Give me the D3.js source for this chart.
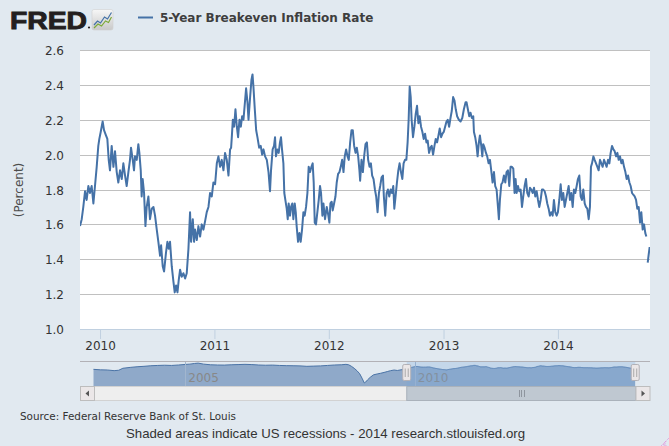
<!DOCTYPE html>
<html><head><meta charset="utf-8">
<script src="https://cdn.jsdelivr.net/npm/d3@7"></script>
<style>html,body{margin:0;padding:0;background:#E1E9F0;} svg{display:block;}</style>
</head><body><svg id="c" width="669" height="446"></svg>
<script>
// ---------- DATA ----------
const seriesName = "5-Year Breakeven Inflation Rate";
const yAxisTitle = "(Percent)";
const yTicks = [1.0, 1.2, 1.4, 1.6, 1.8, 2.0, 2.2, 2.4, 2.6];
const xTickYears = [2010, 2011, 2012, 2013, 2014];
const navTickYears = [2005, 2010];
const viewRange = [2009.825, 2014.805];   // decimal years shown in main chart
const navRange = [2003.0, 2014.8];         // decimal years in navigator
// [decimal year, percent]
const breakeven = [
[2009.825,1.59],[2009.840,1.63],[2009.854,1.70],[2009.869,1.79],[2009.883,1.74],[2009.898,1.82],[2009.912,1.78],[2009.927,1.82],[2009.942,1.72],[2009.956,1.82],[2009.971,1.93],[2009.985,2.05],[2009.994,2.09],[2010.006,2.13],[2010.023,2.19],[2010.035,2.14],[2010.052,2.11],[2010.064,2.09],[2010.076,1.97],[2010.087,1.91],[2010.102,2.05],[2010.117,1.93],[2010.131,2.02],[2010.146,1.90],[2010.160,1.84],[2010.175,1.91],[2010.190,1.86],[2010.204,1.95],[2010.219,1.88],[2010.233,1.82],[2010.248,1.90],[2010.262,1.97],[2010.271,2.04],[2010.286,1.97],[2010.297,1.91],[2010.306,1.99],[2010.321,1.97],[2010.335,2.06],[2010.344,2.01],[2010.356,1.91],[2010.364,1.76],[2010.373,1.86],[2010.385,1.78],[2010.397,1.59],[2010.408,1.70],[2010.423,1.76],[2010.437,1.63],[2010.452,1.69],[2010.467,1.70],[2010.481,1.65],[2010.496,1.57],[2010.510,1.50],[2010.525,1.42],[2010.534,1.48],[2010.548,1.36],[2010.560,1.33],[2010.577,1.44],[2010.589,1.50],[2010.601,1.46],[2010.612,1.50],[2010.627,1.36],[2010.642,1.27],[2010.653,1.21],[2010.665,1.25],[2010.677,1.21],[2010.688,1.28],[2010.700,1.34],[2010.714,1.30],[2010.729,1.32],[2010.744,1.29],[2010.758,1.32],[2010.773,1.46],[2010.787,1.67],[2010.796,1.50],[2010.811,1.63],[2010.822,1.50],[2010.831,1.57],[2010.846,1.51],[2010.860,1.59],[2010.875,1.53],[2010.889,1.60],[2010.904,1.57],[2010.919,1.62],[2010.933,1.67],[2010.948,1.70],[2010.962,1.78],[2010.977,1.76],[2010.991,1.84],[2011.006,1.83],[2011.021,1.95],[2011.035,1.99],[2011.050,1.93],[2011.064,1.97],[2011.079,1.91],[2011.093,2.01],[2011.108,1.97],[2011.123,1.88],[2011.137,2.03],[2011.146,2.04],[2011.152,2.10],[2011.161,2.20],[2011.172,2.16],[2011.184,2.26],[2011.196,2.16],[2011.207,2.10],[2011.219,2.20],[2011.231,2.16],[2011.242,2.22],[2011.254,2.20],[2011.268,2.31],[2011.277,2.38],[2011.289,2.30],[2011.298,2.20],[2011.312,2.33],[2011.324,2.43],[2011.333,2.46],[2011.341,2.39],[2011.353,2.26],[2011.365,2.14],[2011.376,2.10],[2011.391,2.04],[2011.405,2.05],[2011.417,2.00],[2011.429,2.03],[2011.443,1.99],[2011.458,1.97],[2011.473,1.90],
[2011.486,1.79],[2011.495,1.91],[2011.509,2.03],[2011.521,2.05],[2011.530,2.10],[2011.538,1.99],[2011.550,2.03],[2011.562,2.01],[2011.573,2.07],[2011.582,2.10],[2011.591,2.03],[2011.603,1.95],[2011.611,1.78],[2011.620,1.74],[2011.632,1.69],[2011.641,1.63],[2011.649,1.72],[2011.661,1.65],[2011.670,1.70],[2011.681,1.72],[2011.690,1.63],[2011.702,1.72],[2011.711,1.67],[2011.719,1.59],[2011.731,1.50],[2011.743,1.55],[2011.754,1.50],[2011.766,1.57],[2011.778,1.67],[2011.789,1.65],[2011.801,1.70],[2011.813,1.78],[2011.824,1.93],[2011.836,1.90],[2011.848,1.93],[2011.859,1.95],[2011.868,1.84],[2011.877,1.61],[2011.888,1.60],[2011.900,1.67],[2011.912,1.74],[2011.923,1.82],[2011.932,1.78],[2011.944,1.65],[2011.953,1.72],[2011.967,1.63],[2011.982,1.70],[2011.996,1.65],[2012.005,1.61],[2012.014,1.72],[2012.025,1.73],[2012.034,1.68],[2012.046,1.72],[2012.058,1.76],[2012.069,1.84],[2012.081,1.89],[2012.093,1.90],[2012.104,1.93],[2012.116,1.97],[2012.128,1.90],[2012.139,1.99],[2012.151,2.03],[2012.163,1.99],[2012.174,1.97],[2012.186,2.07],[2012.198,2.14],[2012.209,2.14],[2012.221,2.05],[2012.233,2.01],[2012.244,2.04],[2012.256,1.99],[2012.267,1.91],[2012.273,1.85],[2012.285,1.97],[2012.297,1.90],[2012.308,1.99],[2012.320,2.06],[2012.332,2.07],[2012.343,1.97],[2012.355,1.93],[2012.367,1.95],[2012.378,1.88],[2012.390,1.86],[2012.402,1.80],[2012.413,1.76],[2012.425,1.67],[2012.437,1.78],[2012.448,1.82],[2012.460,1.87],[2012.472,1.88],[2012.480,1.76],[2012.492,1.65],[2012.504,1.78],[2012.515,1.80],[2012.527,1.76],[2012.539,1.80],[2012.550,1.78],[2012.562,1.82],[2012.571,1.69],[2012.582,1.76],[2012.594,1.84],[2012.606,1.91],[2012.617,1.95],[2012.629,1.90],[2012.641,1.86],[2012.652,1.95],[2012.664,1.97],[2012.676,1.97],[2012.687,2.07],[2012.696,2.20],[2012.705,2.39],[2012.714,2.33],[2012.722,2.20],[2012.734,2.10],[2012.746,2.16],[2012.757,2.23],[2012.769,2.28],[2012.781,2.18],[2012.792,2.22],[2012.804,2.16],[2012.816,2.13],[2012.827,2.09],[2012.839,2.12],[2012.851,2.07],[2012.862,2.08],[2012.874,2.01],[2012.886,2.04],[2012.897,2.05],[2012.909,2.00],[2012.921,2.05],[2012.932,2.09],[2012.944,2.07],[2012.956,2.11],[2012.967,2.15],[2012.979,2.10],[2012.991,2.12],[2013.002,2.13],[2013.014,2.16],[2013.026,2.19],[2013.037,2.20],[2013.049,2.16],[2013.061,2.21],[2013.072,2.25],[2013.084,2.33],[2013.096,2.31],[2013.107,2.26],[2013.119,2.22],[2013.134,2.20],
[2013.149,2.19],[2013.164,2.21],[2013.178,2.26],[2013.193,2.30],[2013.201,2.30],[2013.213,2.26],[2013.225,2.22],[2013.236,2.24],[2013.248,2.21],[2013.260,2.22],[2013.266,2.13],[2013.277,2.10],[2013.289,2.05],[2013.298,1.99],[2013.309,2.07],[2013.318,2.11],[2013.330,2.05],[2013.339,1.99],[2013.347,2.06],[2013.359,2.04],[2013.371,2.01],[2013.382,1.99],[2013.394,1.95],[2013.406,1.97],[2013.417,1.91],[2013.429,1.84],[2013.441,1.90],[2013.452,1.82],[2013.464,1.80],[2013.476,1.70],[2013.484,1.63],[2013.493,1.74],[2013.505,1.83],[2013.516,1.84],[2013.528,1.88],[2013.540,1.84],[2013.551,1.90],[2013.563,1.91],[2013.575,1.82],[2013.586,1.93],[2013.598,1.93],[2013.610,1.92],[2013.621,1.78],[2013.630,1.86],[2013.639,1.78],[2013.651,1.82],[2013.662,1.79],[2013.674,1.80],[2013.686,1.70],[2013.697,1.76],[2013.709,1.82],[2013.721,1.86],[2013.732,1.78],[2013.744,1.76],[2013.756,1.81],[2013.767,1.80],[2013.779,1.78],[2013.791,1.81],[2013.802,1.76],[2013.814,1.79],[2013.826,1.74],[2013.837,1.70],[2013.849,1.74],[2013.861,1.80],[2013.872,1.80],[2013.884,1.79],[2013.896,1.76],[2013.907,1.72],[2013.919,1.69],[2013.930,1.65],[2013.942,1.67],[2013.954,1.65],[2013.965,1.74],[2013.977,1.67],[2013.989,1.65],[2014.000,1.67],[2014.012,1.74],[2014.024,1.83],[2014.035,1.74],[2014.047,1.78],[2014.059,1.70],[2014.070,1.74],[2014.082,1.78],[2014.094,1.82],[2014.105,1.74],[2014.117,1.78],[2014.129,1.70],[2014.140,1.80],[2014.152,1.78],[2014.164,1.82],[2014.175,1.86],[2014.187,1.88],[2014.199,1.76],[2014.210,1.74],[2014.222,1.80],[2014.234,1.72],[2014.245,1.70],[2014.257,1.69],[2014.269,1.63],[2014.280,1.70],[2014.289,1.93],[2014.298,1.95],[2014.310,1.99],[2014.321,1.97],[2014.333,1.95],[2014.345,1.93],[2014.356,1.91],[2014.368,1.97],[2014.380,1.95],[2014.391,1.93],[2014.403,1.97],[2014.415,1.95],[2014.426,1.93],[2014.438,1.97],[2014.450,1.95],[2014.461,2.01],[2014.473,2.05],[2014.485,2.03],[2014.496,2.02],[2014.508,1.99],[2014.520,2.01],[2014.531,1.97],[2014.543,1.99],[2014.555,1.95],[2014.566,1.97],[2014.578,1.93],[2014.590,1.90],[2014.601,1.86],[2014.613,1.88],[2014.625,1.84],[2014.636,1.82],[2014.648,1.78],[2014.659,1.77],[2014.671,1.76],[2014.683,1.74],[2014.694,1.69],[2014.706,1.70],[2014.718,1.61],[2014.729,1.67],[2014.741,1.57],[2014.753,1.60],[2014.764,1.55],[2014.773,1.53],[2014.777,null],[2014.785,1.38],[2014.794,1.43],[2014.802,1.47]
];
// earlier history shown only in the navigator
const navHistory = [
[2003.00,1.41],[2003.15,1.30],[2003.30,1.26],[2003.45,1.11],[2003.55,1.20],[2003.64,1.65],[2003.80,1.85],[2003.95,2.00],[2004.10,2.10],[2004.25,2.23],[2004.40,2.30],[2004.55,2.35],[2004.70,2.30],[2004.85,2.40],[2005.00,2.53],[2005.10,2.60],[2005.20,2.75],[2005.28,2.83],[2005.40,2.60],[2005.55,2.45],[2005.70,2.40],[2005.85,2.38],[2006.00,2.45],[2006.15,2.50],[2006.30,2.55],[2006.45,2.50],[2006.60,2.40],[2006.75,2.35],[2006.90,2.38],[2007.05,2.30],[2007.20,2.25],[2007.35,2.23],[2007.50,2.20],[2007.65,2.10],[2007.80,2.15],[2007.95,2.20],[2008.10,2.30],[2008.25,2.40],[2008.40,2.45],[2008.50,2.55],[2008.56,2.45],[2008.62,2.10],[2008.68,1.65],[2008.74,1.10],[2008.80,0.40],[2008.85,-0.60],[2008.90,-1.70],[2008.93,-1.50],[2008.97,-1.00],[2009.03,-0.40],[2009.10,0.15],[2009.18,0.35],[2009.25,0.50],[2009.33,0.70],[2009.40,0.90],[2009.47,1.10],[2009.55,1.25],[2009.62,1.15],[2009.70,1.30],[2009.78,1.40]
];

// ---------- DRAW ----------
const W = 669, H = 446;
const svg = d3.select('#c');
const FONT = "'DejaVu Sans', Verdana, sans-serif";
const toDate = t => { const yr = Math.floor(t); const s = Date.UTC(yr,0,1), e = Date.UTC(yr+1,0,1); return new Date(s + (t-yr)*(e-s)); };

svg.append('rect').attr('width', W).attr('height', H).attr('fill', '#E1E9F0');

const plot = {left: 80, right: 650, top: 50, bottom: 329};
const x = d3.scaleUtc().domain(viewRange.map(toDate)).range([plot.left, plot.right]);
const y = d3.scaleLinear().domain([yTicks[0], yTicks[yTicks.length-1]]).range([plot.bottom, plot.top]);

svg.append('rect').attr('x', plot.left).attr('y', plot.top).attr('width', plot.right-plot.left)
  .attr('height', plot.bottom-plot.top).attr('fill', '#fff');

// gridlines
svg.append('g').selectAll('line').data(yTicks.filter(v => v > yTicks[0])).join('line')
  .attr('x1', plot.left).attr('x2', plot.right)
  .attr('y1', d => Math.round(y(d))+0.5).attr('y2', d => Math.round(y(d))+0.5)
  .attr('stroke', '#C0C0C0').attr('stroke-width', 1);

// y axis labels
const yAxis = svg.append('g').attr('transform', `translate(${plot.left},0)`)
  .call(d3.axisLeft(y).tickValues(yTicks).tickFormat(d3.format('.1f')).tickSize(0).tickPadding(16));
yAxis.select('.domain').remove();
yAxis.selectAll('text').attr('font-family', FONT).attr('font-size', 12).attr('fill', '#333').attr('dy', '0.38em');

// y axis title
svg.append('text').attr('transform', 'translate(23,190) rotate(-90)').attr('text-anchor', 'middle')
  .attr('font-family', FONT).attr('font-size', 12).attr('fill', '#4d4d4d').text(yAxisTitle);

// x axis
const xAxis = svg.append('g').attr('transform', `translate(0,${plot.bottom})`)
  .call(d3.axisBottom(x).tickValues(xTickYears.map(toDate)).tickFormat(d3.utcFormat('%Y')).tickSize(10).tickPadding(2));
xAxis.select('.domain').remove();
xAxis.selectAll('line').attr('stroke', '#C0D0E0');
xAxis.selectAll('text').attr('font-family', FONT).attr('font-size', 12).attr('fill', '#333');
svg.append('line').attr('x1', plot.left).attr('x2', plot.right).attr('y1', plot.bottom+0.5).attr('y2', plot.bottom+0.5)
  .attr('stroke', '#C0D0E0');

// series
svg.append('clipPath').attr('id', 'pc').append('rect').attr('x', plot.left).attr('y', plot.top-5)
  .attr('width', plot.right-plot.left).attr('height', plot.bottom-plot.top+5);
const line = d3.line().defined(d => d[1] != null).x(d => x(toDate(d[0]))).y(d => y(d[1]));
svg.append('path').datum(breakeven).attr('d', line).attr('clip-path', 'url(#pc)')
  .attr('fill', 'none').attr('stroke', '#4572A7').attr('stroke-width', 2).attr('stroke-linejoin', 'round');

// ---------- header ----------
const logo = svg.append('g');
logo.append('text').attr('x', 10).attr('y', 28.5).attr('font-family', "'Liberation Sans', Arial, sans-serif")
  .attr('font-weight', 'bold').attr('font-size', 23.5).attr('textLength', 77).attr('lengthAdjust', 'spacingAndGlyphs')
  .attr('fill', '#231F20').attr('stroke', '#231F20').attr('stroke-width', 0.9).text('FRED');
logo.append('circle').attr('cx', 89).attr('cy', 27.5).attr('r', 1.1).attr('fill', '#231F20');
const grad = svg.append('defs').append('linearGradient').attr('id', 'lg').attr('x1', 0).attr('y1', 0).attr('x2', 0).attr('y2', 1);
grad.append('stop').attr('offset', 0).attr('stop-color', '#f7f7f7');
grad.append('stop').attr('offset', 1).attr('stop-color', '#c9c9c9');
logo.append('rect').attr('x', 92).attr('y', 9.5).attr('width', 21).attr('height', 20.5).attr('rx', 2)
  .attr('fill', 'url(#lg)').attr('stroke', '#d0d0d0').attr('stroke-width', 0.6);
logo.append('path').attr('d', 'M94,25 L97.5,21 L100.5,23 L104.5,17 L107.5,19 L111.5,12.5')
  .attr('fill', 'none').attr('stroke', '#4572A7').attr('stroke-width', 1.2);
logo.append('path').attr('d', 'M94,28 L98,24 L101.5,26 L105.5,21 L108.5,22.5 L111.5,17')
  .attr('fill', 'none').attr('stroke', '#7DAA3A').attr('stroke-width', 1.2);

svg.append('line').attr('x1', 138).attr('x2', 153).attr('y1', 17.5).attr('y2', 17.5)
  .attr('stroke', '#4572A7').attr('stroke-width', 2);
svg.append('text').attr('x', 160).attr('y', 22).attr('font-family', FONT).attr('font-weight', 'bold')
  .attr('font-size', 12).attr('fill', '#3E3E3E').text(seriesName);

// ---------- navigator ----------
const nav = {left: 80, right: 650, top: 361.5, bottom: 386};
const nx = d3.scaleUtc().domain(navRange.map(toDate)).range([93.5, 635]);
const ny = d3.scaleLinear().domain([-2.4, 3.2]).range([nav.bottom, nav.top]);
const mainValid = breakeven.filter(d => d[1] != null);
const smooth = mainValid.map((d, i) => {
  const w = mainValid.slice(Math.max(0, i-5), Math.min(mainValid.length, i+6));
  return [d[0], d3.mean(w, e => e[1])];
});
const navData = navHistory.concat(smooth);
const navArea = d3.area().x(d => nx(toDate(d[0]))).y0(nav.bottom).y1(d => ny(d[1]));
const navLine = d3.line().x(d => nx(toDate(d[0]))).y(d => ny(d[1]));
svg.append('path').datum(navData).attr('d', navArea).attr('fill', '#8FA9C9');
svg.append('path').datum(navData).attr('d', navLine).attr('fill', 'none').attr('stroke', '#4A73A6').attr('stroke-width', 1);

const navTicks = svg.append('g');
navTicks.selectAll('line').data(navTickYears).join('line')
  .attr('x1', d => Math.round(nx(toDate(d)))+0.5).attr('x2', d => Math.round(nx(toDate(d)))+0.5)
  .attr('y1', nav.top).attr('y2', nav.bottom).attr('stroke', '#A2B6CE').attr('stroke-width', 1);
navTicks.selectAll('text').data(navTickYears).join('text')
  .attr('x', d => nx(toDate(d)) + 3).attr('y', 382).attr('font-family', FONT).attr('font-size', 12)
  .attr('fill', '#888').text(d => d);

const selX0 = nx(toDate(viewRange[0])), selX1 = nx(toDate(viewRange[1]));
svg.append('rect').attr('x', selX0).attr('y', nav.top).attr('width', selX1-selX0).attr('height', nav.bottom-nav.top)
  .attr('fill', 'rgba(120,166,218,0.27)');
svg.append('line').attr('x1', nav.left).attr('x2', nav.right).attr('y1', nav.top).attr('y2', nav.top)
  .attr('stroke', '#B2B1B6').attr('stroke-width', 1);

// scrollbar
const sb = {top: 386.5, h: 14};
svg.append('rect').attr('x', 80.5).attr('y', sb.top).attr('width', 569).attr('height', sb.h)
  .attr('fill', '#EEEEEE').attr('stroke', '#D2D2D2');
svg.append('rect').attr('x', selX0).attr('y', sb.top).attr('width', 636-selX0).attr('height', sb.h)
  .attr('fill', '#BFC8D1').attr('stroke', '#AAB2BB');
const midX = (selX0 + 636) / 2;
[-2.5, 0, 2.5].forEach(o => svg.append('line').attr('x1', Math.round(midX+o)+0.5).attr('x2', Math.round(midX+o)+0.5)
  .attr('y1', 390).attr('y2', 397).attr('stroke', '#8E959E'));
[[80.5, -1], [636, 1]].forEach(([bx, dir]) => {
  svg.append('rect').attr('x', bx).attr('y', sb.top).attr('width', 14).attr('height', sb.h)
    .attr('fill', '#EBE7E8').attr('stroke', '#BDBDBD');
  const cx = bx + 7, cy = sb.top + sb.h/2;
  svg.append('path').attr('d', `M${cx+dir*2},${cy} L${cx-dir*1.5},${cy-3} L${cx-dir*1.5},${cy+3} Z`).attr('fill', '#555');
});

// handles
[selX0, selX1].forEach(hx => {
  svg.append('rect').attr('x', hx-4).attr('y', 364.5).attr('width', 8).attr('height', 16).attr('rx', 1.5)
    .attr('fill', '#EBE7E8').attr('stroke', '#B2B1B6');
  [-1.5, 1.5].forEach(o => svg.append('line').attr('x1', hx+o).attr('x2', hx+o).attr('y1', 368.5).attr('y2', 377)
    .attr('stroke', '#999').attr('stroke-width', 0.8));
});

// ---------- footer ----------
svg.append('text').attr('x', 20).attr('y', 420).attr('font-family', FONT).attr('font-size', 10)
  .attr('textLength', 216).attr('lengthAdjust', 'spacingAndGlyphs')
  .attr('fill', '#333').text('Source: Federal Reserve Bank of St. Louis');
svg.append('text').attr('x', 126).attr('y', 437.5)
  .attr('font-family', "'Liberation Sans', Arial, sans-serif").attr('font-size', 13.2).attr('fill', '#333')
  .attr('textLength', 399).attr('lengthAdjust', 'spacingAndGlyphs')
  .text('Shaded areas indicate US recessions - 2014 research.stlouisfed.org');
// resize grip
[0, 3, 6].forEach(o => svg.append('line').attr('x1', 669-o).attr('y1', 438+o).attr('x2', 661+o).attr('y2', 446)
  .attr('stroke', '#E07FD8').attr('stroke-width', 0.8).attr('stroke-dasharray', '1,1'));
</script></body></html>
